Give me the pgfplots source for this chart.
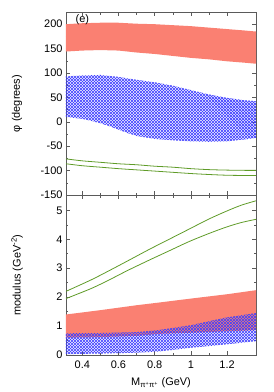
\documentclass[border=0pt]{standalone}
\usepackage{pgfplots}
\pgfplotsset{compat=1.18}
\usepackage{fontspec}
\setmainfont{Liberation Sans}
\usetikzlibrary{patterns}
\definecolor{salmonred}{RGB}{250,128,114}
\definecolor{lgreen}{RGB}{95,155,40}
\definecolor{axgray}{RGB}{90,90,90}
\pgfdeclarepatternformonly{mycross}{\pgfqpoint{-0.5bp}{-0.5bp}}{\pgfqpoint{3.5bp}{3.5bp}}{\pgfqpoint{3bp}{3bp}}{%
  \pgfsetlinewidth{0.7bp}%
  \pgfpathmoveto{\pgfqpoint{0bp}{0bp}}\pgfpathlineto{\pgfqpoint{3bp}{3bp}}%
  \pgfpathmoveto{\pgfqpoint{0bp}{3bp}}\pgfpathlineto{\pgfqpoint{3bp}{0bp}}%
  \pgfusepath{stroke}}
\pgfplotsset{
  myax/.style={
    scale only axis, width=190bp,
    xmin=0.31, xmax=1.36,
    axis line style={axgray, line width=0.6pt},
    tick style={axgray, line width=0.5pt},
    major tick length=4bp, minor tick length=2.5bp,
    tick align=inside,
    xtick={0.4,0.6,0.8,1.0,1.2},
    minor x tick num=1, minor y tick num=1,
    font=\fontsize{11}{13}\selectfont,
    /pgf/number format/assume math mode=true,
    tick label style={font=\fontsize{11}{13}\selectfont},
  }
}
\begin{document}
\begin{tikzpicture}
\useasboundingbox (-66bp,-197bp) rectangle (208bp,195bp);
% top panel
\begin{axis}[myax, height=183bp, at={(0,0)}, anchor=south west,
  ymin=-150, ymax=225, ytick={-150,-100,...,200},
  xticklabels={},
  ylabel={φ (degrees)},
  ylabel style={at={(axis description cs:-0.258,0.5)}, anchor=center},
  yticklabel style={/pgf/number format/fixed},
]
\addplot[fill=salmonred, draw=none] coordinates {
(0.31,200)(0.4,202)(0.5,203)(0.6,203)(0.7,201)(0.8,200)(0.9,198)(1.0,196)(1.1,193)(1.2,190)(1.3,187)(1.36,185)
(1.36,119)(1.3,121)(1.2,124)(1.1,128)(1.0,131)(0.9,135)(0.8,139)(0.7,142)(0.6,146)(0.5,147)(0.4,146)(0.31,144)
} -- cycle;
\addplot[pattern=mycross, pattern color=blue!75, draw=none] coordinates {
(0.31,93)(0.4,95)(0.5,96)(0.6,92)(0.7,86)(0.8,81)(0.9,74)(1.0,65)(1.1,56)(1.2,49)(1.3,44)(1.36,42)
(1.36,-33)(1.3,-36)(1.2,-40)(1.1,-41)(1.0,-40)(0.9,-38)(0.8,-35)(0.75,-32)(0.7,-29)(0.65,-23)(0.6,-16)(0.55,-9)(0.5,-3)(0.45,2)(0.4,6)(0.31,10)
} -- cycle;
\addplot[lgreen, line width=0.8pt, smooth] coordinates {
(0.31,-76)(0.4,-80)(0.5,-83)(0.6,-86)(0.7,-88)(0.8,-91)(0.9,-93)(1.0,-96)(1.1,-98)(1.2,-99)(1.3,-99.5)(1.36,-99.5)};
\addplot[lgreen, line width=0.8pt, smooth] coordinates {
(0.31,-86)(0.4,-90)(0.5,-93)(0.6,-96)(0.7,-98.5)(0.8,-101)(0.9,-103.5)(1.0,-106)(1.1,-108)(1.2,-109.5)(1.3,-110)(1.36,-110)};
\node[anchor=north west, inner sep=1pt] at (axis description cs:0.045,0.99) {(e)};
\end{axis}
% bottom panel
\begin{axis}[myax, height=160bp, at={(0,0)}, anchor=north west,
  ymin=0, ymax=5.53, ytick={0,1,2,3,4,5},
  xticklabels={0.4,0.6,0.8,1,1.2},
  ylabel={modulus (GeV\textsuperscript{-2})},
  ylabel style={at={(axis description cs:-0.258,0.5)}, anchor=center},
  xlabel={M\textsubscript{π\textsuperscript{+}π\textsuperscript{+}} (GeV)},
  xlabel style={at={(axis description cs:0.5,-0.175)}, anchor=center},
  xticklabel style={yshift=-2bp},
]
\addplot[fill=salmonred, draw=none] coordinates {
(0.31,1.40)(0.5,1.55)(0.7,1.72)(0.82,1.81)(1.0,1.95)(1.2,2.1)(1.36,2.24)
(1.36,0.86)(1.2,0.82)(1.0,0.77)(0.82,0.73)(0.7,0.66)(0.5,0.62)(0.31,0.60)
} -- cycle;
\addplot[pattern=mycross, pattern color=blue!75, draw=none] coordinates {
(0.31,0.75)(0.5,0.76)(0.7,0.79)(0.82,0.86)(1.0,1.03)(1.19,1.29)(1.36,1.45)
(1.36,0.48)(1.2,0.37)(1.0,0.25)(0.82,0.12)(0.7,0.08)(0.5,0.05)(0.31,0.03)
} -- cycle;
\addplot[lgreen, line width=0.8pt, smooth] coordinates {
(0.31,2.2)(0.45,2.6)(0.55,2.92)(0.65,3.25)(0.77,3.65)(0.88,4.0)(0.99,4.35)(1.1,4.7)(1.2,4.98)(1.28,5.18)(1.36,5.33)};
\addplot[lgreen, line width=0.8pt, smooth] coordinates {
(0.31,1.95)(0.45,2.3)(0.55,2.6)(0.65,2.92)(0.77,3.28)(0.88,3.6)(0.99,3.92)(1.1,4.2)(1.2,4.43)(1.28,4.58)(1.36,4.69)};
\end{axis}
\end{tikzpicture}
\end{document}
